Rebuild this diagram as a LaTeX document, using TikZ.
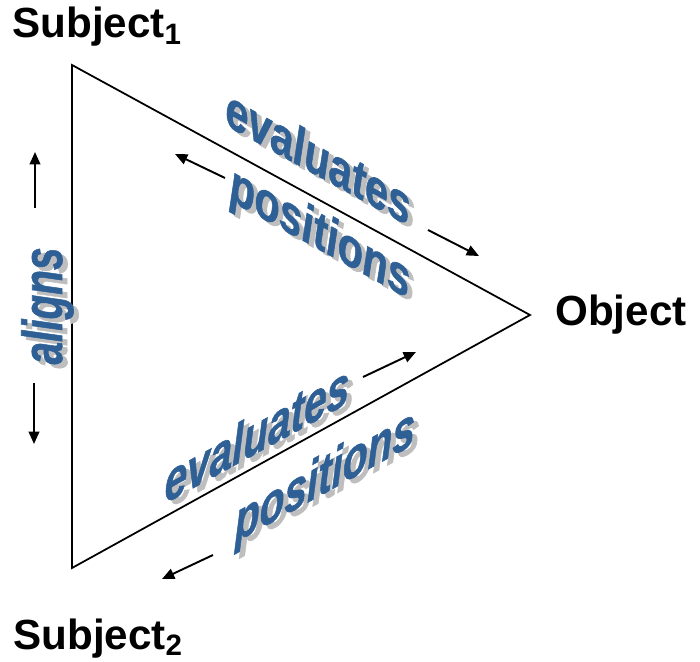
\documentclass[tikz,border=0pt]{standalone}
\usepackage{fontspec}
\setmainfont{Liberation Sans}
\newfontfamily\heavyface{Liberation Sans}[BoldItalicFeatures={FakeBold=1.2}]
\usetikzlibrary{arrows.meta}
\definecolor{verbblue}{RGB}{46,96,150}
\definecolor{shadegray}{RGB}{190,190,190}
\newcommand{\rolefont}{\fontsize{24}{28}\selectfont\bfseries}
\newcommand{\verbfont}{\heavyface\fontsize{32}{36}\selectfont\bfseries\itshape}
\tikzset{
  side/.style   = {line width=1pt, line join=miter},
  role/.style   = {font=\rolefont, inner sep=0pt, anchor=base west},
  verb/.style   = {font=\verbfont, text=verbblue, inner sep=0pt, anchor=base,
                   transform shape},
  vshade/.style = {verb, text=shadegray},
  fall/.style   = {yslant=-0.55, xscale=0.72},
  climb/.style  = {yslant=0.55, xscale=0.72},
  upright/.style = {rotate=90, xscale=0.72},
  cue/.style    = {line width=1.1pt, -{Triangle[length=7pt,width=6pt]}},
}

\begin{document}
\begin{tikzpicture}[x=0.02cm,y=-0.02cm]
  \useasboundingbox (0,0) rectangle (700,662);
  % corners of the triangle
  \coordinate (v1) at (72,65);
  \coordinate (v2) at (72,568);
  \coordinate (v3) at (530,315);
  \draw[side] (v1) -- (v3) -- (v2) -- cycle;
  \node[role] (subj1) at (12,38) {Subject\textsubscript{1}};
  \node[role] (subj2) at (13,649) {Subject\textsubscript{2}};
  \node[role] (obj) at (555,325) {Object};
  % upper side
  \node[vshade, fall] (ev1s) at (323,180) {evaluates};
  \node[verb, fall] (ev1) at (318,176) {evaluates};
  \node[vshade, fall] (po1s) at (325,254) {positions};
  \node[verb, fall] (po1) at (320,250) {positions};
  \coordinate (a1) at (225,178); \coordinate (a1t) at (175,154);
  \coordinate (a2) at (428,230); \coordinate (a2t) at (479,256);
  \draw[cue] (a1) -- (a1t);
  \draw[cue] (a2) -- (a2t);
  % lower side
  \node[vshade, climb] (ev2s) at (262,457) {evaluates};
  \node[verb, climb] (ev2) at (257,453) {evaluates};
  \node[vshade, climb] (po2s) at (330,497) {positions};
  \node[verb, climb] (po2) at (325,493) {positions};
  \coordinate (b1) at (363,377); \coordinate (b1t) at (416,352);
  \coordinate (b2) at (213,555); \coordinate (b2t) at (162,579);
  \draw[cue] (b1) -- (b1t);
  \draw[cue] (b2) -- (b2t);
  % left side
  \node[vshade, upright] (alis) at (67,310) {aligns};
  \node[verb, upright] (ali) at (62,306) {aligns};
  \coordinate (c1) at (35,208); \coordinate (c1t) at (35,152);
  \coordinate (c2) at (34,383); \coordinate (c2t) at (34,444);
  \draw[cue] (c1) -- (c1t);
  \draw[cue] (c2) -- (c2t);
\end{tikzpicture}
\end{document}
